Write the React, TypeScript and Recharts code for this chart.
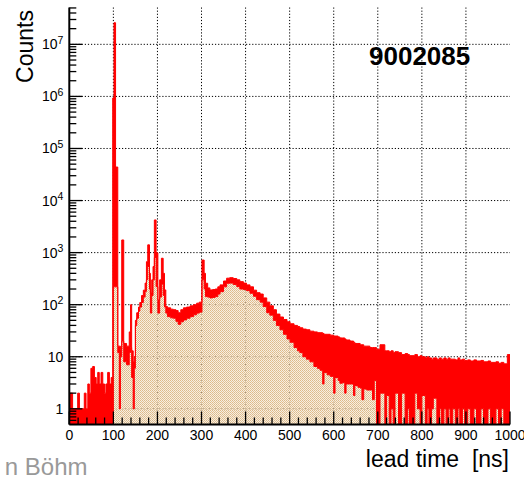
import React from "react";
import {
  ComposedChart,
  Area,
  XAxis,
  YAxis,
  CartesianGrid,
} from "recharts";

// lead time bin edges [ns]
const binEdges: number[] = [
  0, 1.5, 7.5, 19, 23, 34, 38, 42, 45.5, 49, 53, 57, 61, 64.5, 68, 72, 76, 80, 83, 87, 91, 95,
  98.5, 100, 101.4, 105, 110, 113.5, 116, 119, 123.5, 130, 136, 139, 141.5, 145, 147.5,
  150, 153, 157, 160, 164, 168, 172, 175, 178, 182, 184, 187, 190, 193, 197, 201, 205, 209,
  213, 216, 219, 223, 230, 236, 242, 247, 253, 259, 266, 274, 282, 289, 295, 301, 306, 309,
  314, 319, 325, 331, 337, 342, 350, 357, 364, 372, 380, 387, 395, 402, 410, 418, 425, 433,
  440, 448, 455, 463, 470, 478, 486, 494, 501, 510, 518, 523, 530, 538, 546, 555, 563, 569,
  575, 578, 585, 592, 600, 603, 610, 614, 620, 625, 628, 637, 645, 648, 655, 660, 664, 668,
  675, 682, 688, 692, 697, 705, 716, 720, 726, 730, 735, 739, 747, 754, 762, 768, 772, 784,
  790, 796, 800, 808, 812, 816, 822, 826, 834, 840, 844, 850, 855, 860, 864, 870, 876, 882,
  886, 892, 897, 904, 910, 918, 924, 934, 940, 950, 956, 968, 974, 980, 986, 994, 1000,
];

// upper envelope of the counts (red)
const upperCounts: number[] = [
  0.5, 2, 1, 2, 1, 2, 1, 3, 2, 6, 6.5, 4, 3, 5, 3, 5, 3, 2, 3, 5, 3, 4,
  9.3e5, 9.3e5, 2.6e7, 4.4e4, 16, 16, 14, 1750, 18, 16, 30, 100, 13, 8, 10,
  50, 70, 90, 110, 150, 190, 260, 670, 1410, 400, 167, 300, 540, 4240, 990, 123, 300, 780,
  400, 192, 92, 87, 82, 80, 77, 70, 80, 87, 90, 95, 100, 107, 112, 720, 400, 258,
  210, 192, 195, 200, 220, 240, 285, 323, 330, 318, 300, 277, 260, 240, 220, 190, 170, 160,
  135, 112, 95, 80, 66, 58, 52, 47, 43, 40, 38, 36, 34, 33, 31, 30, 29, 29,
  28, 27, 27, 26, 25, 25, 24, 23, 23, 22, 21, 20, 19, 18, 18, 17, 17, 16,
  16, 15, 15, 15, 14, 17, 13, 13, 12.5, 13, 12, 12.5, 12, 11, 11.5, 11, 10.5, 11,
  10, 10.5, 10, 9.5, 10, 9.5, 9, 9.5, 9, 9.5, 9, 9.5, 9, 9.5, 9, 9, 8.7, 9.5,
  8.7, 9, 8.5, 8.7, 8.3, 8.7, 8.3, 8.5, 8, 8.3, 7.8, 8, 7.5, 7.8, 7.3, 11, 11,
];

// lower envelope of the counts (beige); 0.5 = below the axis
const lowerCounts: number[] = [
  0.5, 0.5, 0.5, 0.5, 0.5, 0.5, 0.5, 0.5, 0.5, 0.5, 0.5, 0.5, 0.5, 0.5, 0.5, 0.5, 0.5, 0.5, 0.5, 0.5, 0.5, 0.5,
  0.5, 220, 220, 220, 12, 1, 10, 20, 8, 7, 12, 15, 4, 1, 6,
  40, 55, 75, 90, 110, 140, 180, 300, 540, 200, 69, 150, 300, 800, 222, 69, 140, 250,
  150, 90, 69, 59, 56, 55, 48, 42, 47, 51, 55, 59, 64, 69, 72, 300, 200, 143,
  140, 135, 138, 143, 160, 178, 220, 258, 260, 245, 222, 200, 195, 186, 166, 145, 125, 112,
  92, 70, 63, 50, 40, 33, 27, 22, 19, 15, 13, 12, 10, 9, 8, 6.5, 6, 5.5,
  3, 5, 4.5, 4.2, 2, 4, 3.5, 3.1, 3.2, 2, 3, 3, 1.8, 2.8, 2.6, 2.5, 1.5, 2.4,
  2.3, 2.3, 1.5, 3.5, 0.5, 2, 0.5, 1.8, 0.5, 1, 0.5, 2, 0.5, 2, 0.5, 1, 0.5, 2,
  1, 0.5, 1.8, 0.5, 1, 0.5, 1, 1.6, 0.5, 1, 0.5, 1, 0.5, 1, 0.5, 1, 0.5, 1,
  0.5, 1, 0.5, 1, 0.5, 1, 0.5, 1, 0.5, 1, 0.5, 1, 0.5, 1, 0.5, 0.5, 0.5,
];

const xTicks: number[] = Array.from({ length: 51 }, (_, i) => i * 20);
const xGrid: number[] = [100, 200, 300, 400, 500, 600, 700, 800, 900];
const yMajor: number[] = [1, 10, 100, 1e3, 1e4, 1e5, 1e6, 1e7];
const yMinorMultipliers: number[] = [2, 3, 4, 5, 6, 7, 8, 9];
const yTicks: number[] = [
  0.6, 0.7, 0.8, 0.9,
  ...yMajor.flatMap((m) => [m, ...yMinorMultipliers.map((k) => k * m)]),
].filter((v) => v <= 5.1e7);

const rows = binEdges.map((t, i) => ({
  t,
  lower: lowerCounts[i],
  band: [lowerCounts[i], upperCounts[i]],
}));

const FONT = "'Liberation Sans', Arial, Helvetica, sans-serif";

const XTick = (props: any) => {
  const { x, y, payload } = props;
  const v = payload.value as number;
  const major = v % 100 === 0;
  return (
    <g>
      <line x1={x} x2={x} y1={y} y2={y - (major ? 13 : 7)} stroke="#000" strokeWidth={1.3} />
      {major && (
        <text x={x} y={y + 15} textAnchor="middle" fontSize={14} fontFamily={FONT} fill="#000">
          {v}
        </text>
      )}
    </g>
  );
};

const YTick = (props: any) => {
  const { x, y, payload } = props;
  const v = payload.value as number;
  const exp = Math.round(Math.log10(v));
  const major = Math.abs(Math.log10(v) - exp) < 1e-9;
  return (
    <g>
      <line x1={x} x2={x + (major ? 13 : 7)} y1={y} y2={y} stroke="#000" strokeWidth={1.3} />
      {major && (
        <text x={x - 6} y={y + 5} textAnchor="end" fontSize={14} fontFamily={FONT} fill="#000">
          {exp === 0 ? "1" : "10"}
          {exp >= 2 && (
            <tspan dy={-5.5} fontSize={10.5}>
              {exp}
            </tspan>
          )}
        </text>
      )}
    </g>
  );
};

export default function App() {
  return (
    <div style={{ position: "absolute", left: 0, top: 0, width: 524, height: 478, background: "#fff" }}>
      <ComposedChart
        width={524}
        height={478}
        data={rows}
        margin={{ top: 7.5, right: 14, bottom: 0, left: 0 }}
      >
        <defs>
          <pattern id="beigeFill" x={0} y={0} width={2} height={2} patternUnits="userSpaceOnUse">
            <rect x={0} y={0} width={2} height={2} fill="#f4e4cc" fillOpacity={0.6} />
            <rect x={0} y={0} width={1} height={1} fill="#dcb98a" />
            <rect x={1} y={1} width={1} height={1} fill="#e2c298" />
          </pattern>
        </defs>
        <CartesianGrid
          stroke="#000"
          strokeDasharray="1.2 1.9"
          strokeWidth={1}
          verticalValues={xGrid}
          horizontalValues={yMajor}
        />
        <XAxis
          dataKey="t"
          type="number"
          domain={[0, 1000]}
          allowDataOverflow
          ticks={xTicks}
          interval={0}
          tickSize={0}
          tickMargin={0}
          tickLine={false}
          tick={<XTick />}
          axisLine={{ stroke: "#000", strokeWidth: 2 }}
          height={53.5}
        />
        <XAxis
          xAxisId="top"
          orientation="top"
          dataKey="t"
          type="number"
          domain={[0, 1000]}
          tick={false}
          tickLine={false}
          axisLine={{ stroke: "#000", strokeWidth: 2 }}
          height={0}
        />
        <YAxis
          type="number"
          scale="log"
          domain={[0.5, 5.1e7]}
          allowDataOverflow
          ticks={yTicks}
          interval={0}
          tickSize={0}
          tickMargin={0}
          tickLine={false}
          tick={<YTick />}
          axisLine={{ stroke: "#000", strokeWidth: 2 }}
          width={69.3}
        />
        <YAxis
          yAxisId="right"
          orientation="right"
          type="number"
          domain={[0, 1]}
          tick={false}
          tickLine={false}
          axisLine={{ stroke: "#000", strokeWidth: 2 }}
          width={0}
        />
        <Area
          dataKey="lower"
          type="stepAfter"
          fill="url(#beigeFill)"
          fillOpacity={1}
          stroke="none"
          isAnimationActive={false}
        />
        <Area
          dataKey="band"
          type="stepAfter"
          fill="#ff0000"
          fillOpacity={1}
          stroke="#ff0000"
          strokeWidth={1}
          isAnimationActive={false}
        />
      </ComposedChart>
      <svg
        width={524}
        height={478}
        style={{ position: "absolute", left: 0, top: 0, pointerEvents: "none" }}
      >
        <text
          transform="translate(33,10) rotate(-90)"
          textAnchor="end"
          fontSize={23}
          fontFamily={FONT}
          fill="#000"
        >
          Counts
        </text>
        <text
          x={509}
          y={467}
          textAnchor="end"
          fontSize={23}
          fontFamily={FONT}
          fill="#000"
          style={{ whiteSpace: "pre" }}
        >
          {"lead time  [ns]"}
        </text>
        <text x={369} y={65} fontSize={26} fontWeight="bold" fontFamily={FONT} fill="#000">
          9002085
        </text>
        <text x={87.5} y={475} textAnchor="end" fontSize={24} fontFamily={FONT} fill="#999">
          n Böhm
        </text>
      </svg>
    </div>
  );
}
